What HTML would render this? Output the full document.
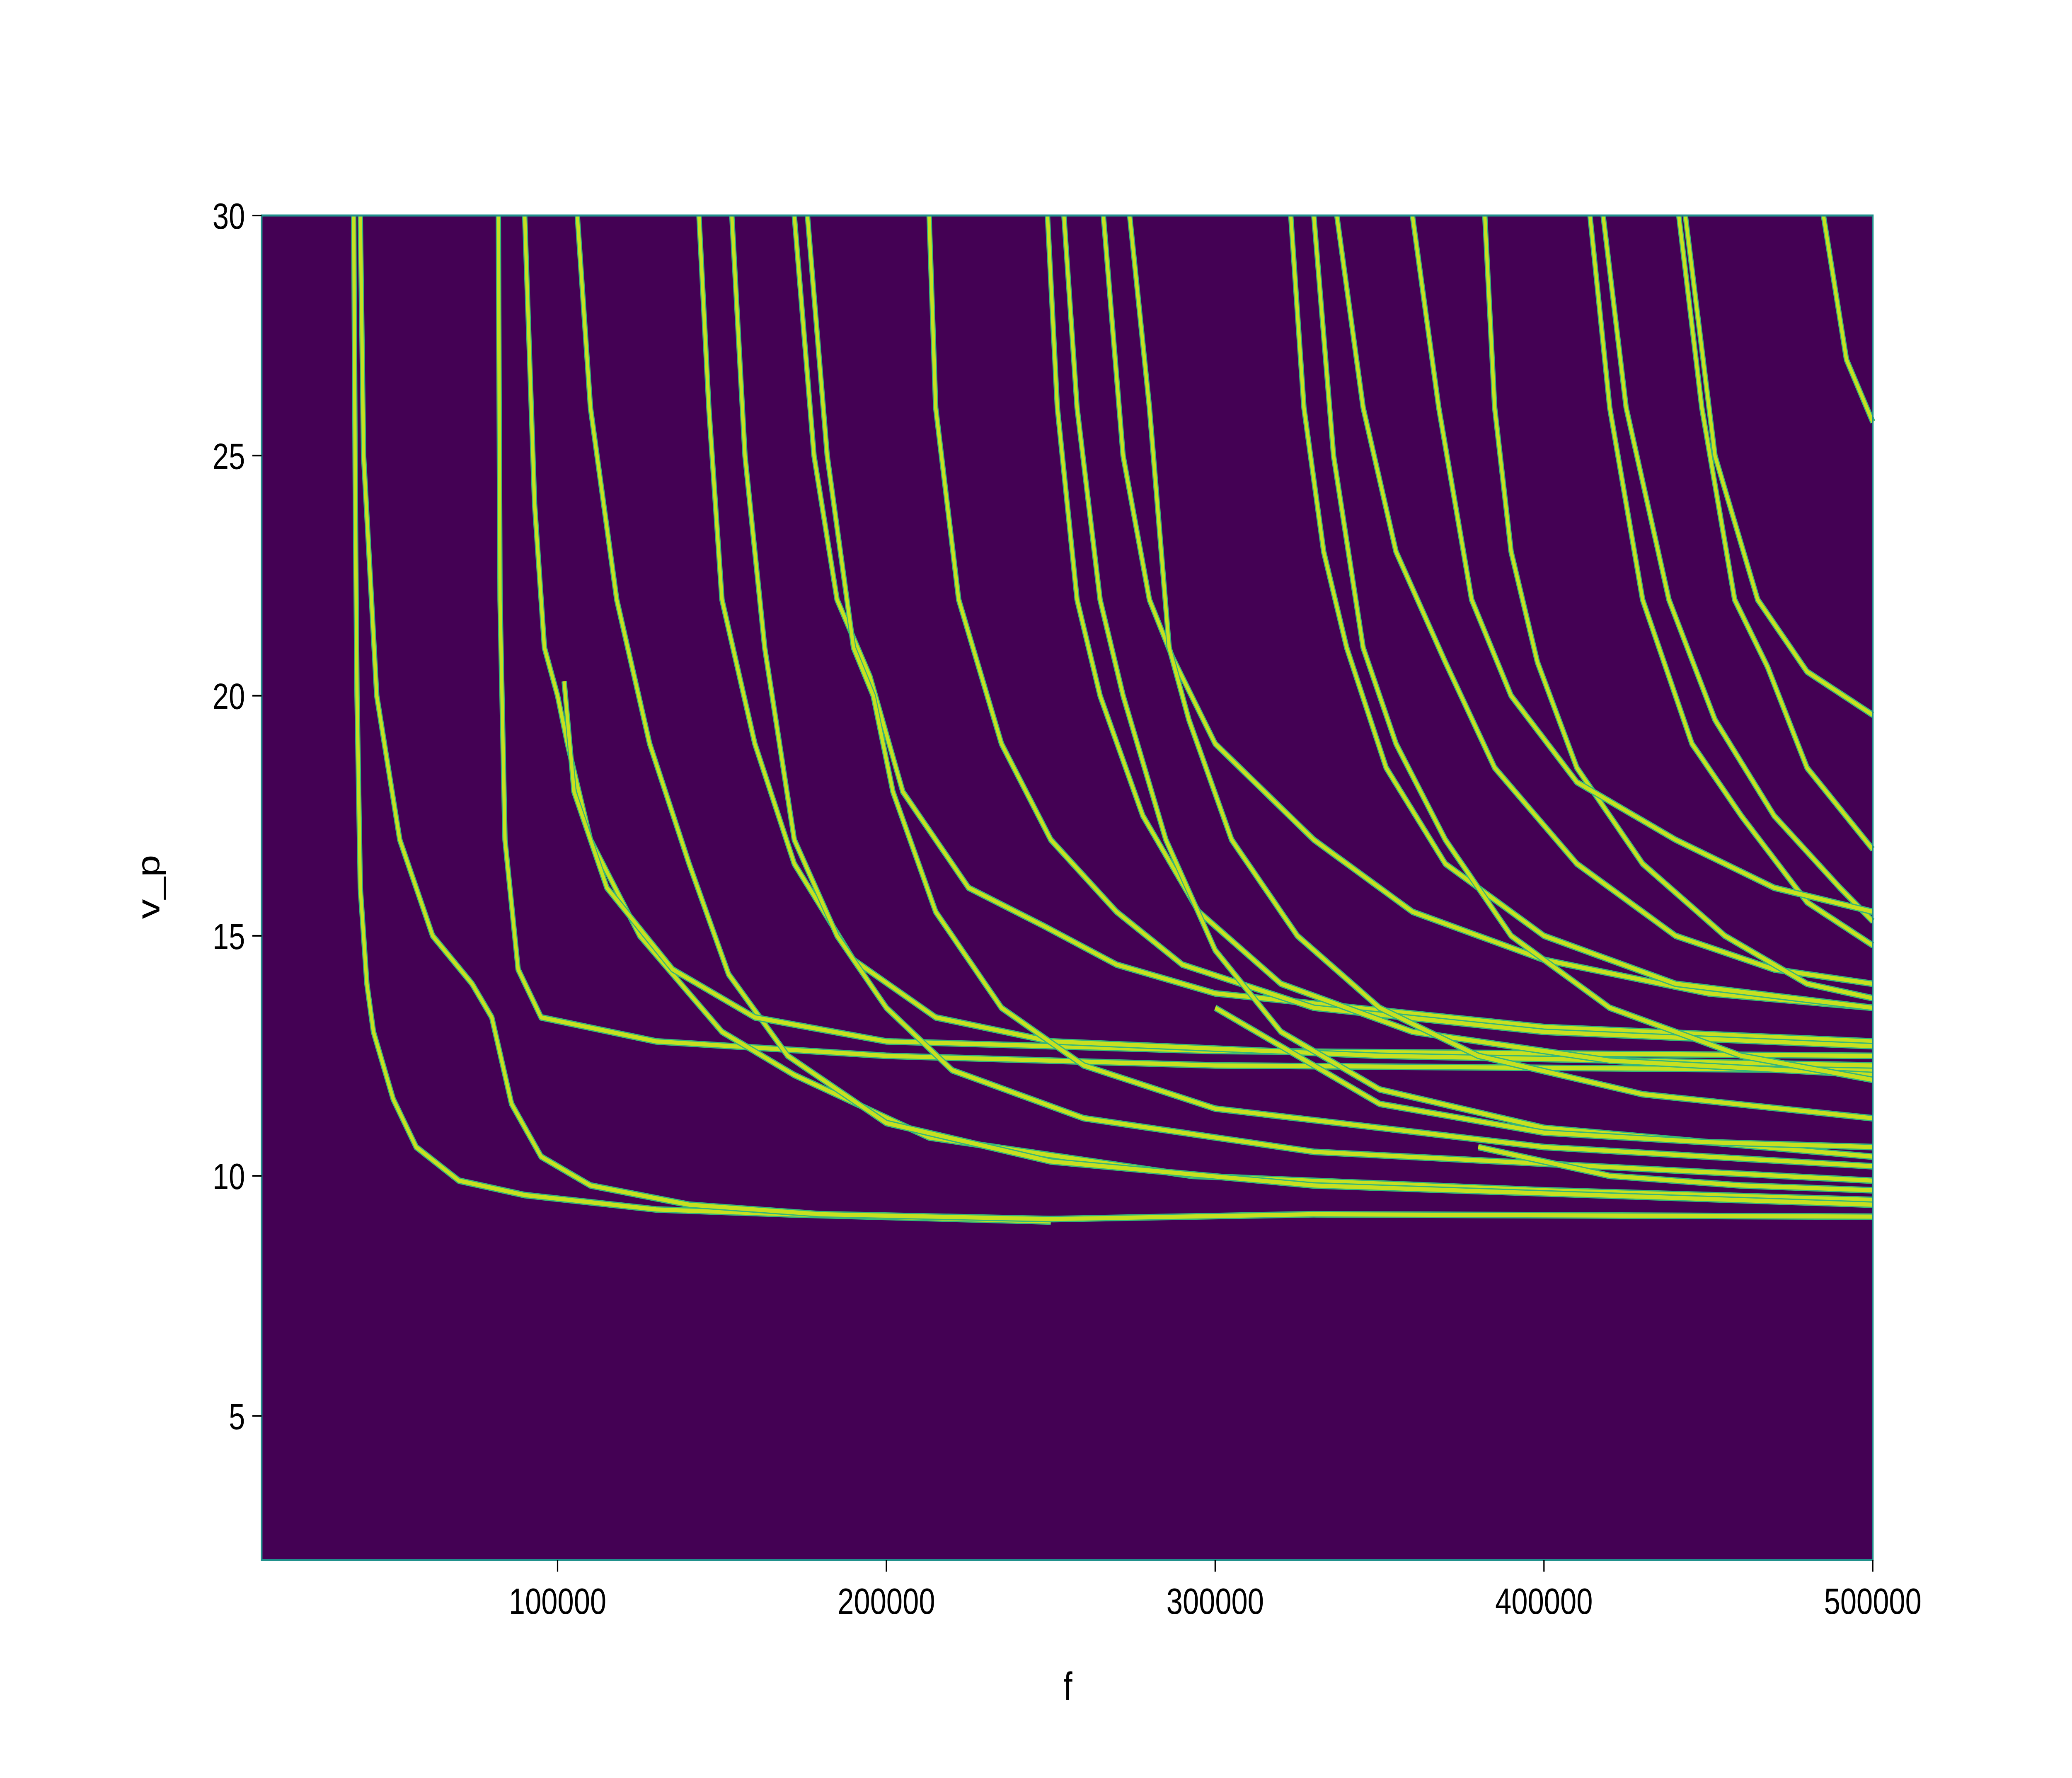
<!DOCTYPE html>
<html><head><meta charset="utf-8"><style>
html,body{margin:0;padding:0;background:#fff;overflow:hidden;width:100%;height:100%;}
svg{display:block;width:100vw;height:100vh;font-family:"Liberation Sans","DejaVu Sans",sans-serif;}
</style></head><body>
<svg id="chart" viewBox="0 0 6240 4290" preserveAspectRatio="none" xmlns="http://www.w3.org/2000/svg">
<rect x="0" y="0" width="6240" height="4290" fill="#ffffff"/>
<rect x="788" y="520" width="4852" height="3244" fill="#440154"/>
<g id="curves"></g>
<rect x="788" y="520" width="4852" height="3244" fill="none" stroke="#21918c" stroke-width="5"/>
<g id="axes"></g>
<text x="3216" y="4102" font-size="96" text-anchor="middle" fill="#000">f</text>
<text x="0" y="0" font-size="96" text-anchor="middle" fill="#000" transform="translate(480,2140) rotate(-90)">v_p</text>
</svg>
<script>
const xTicks = [100000, 200000, 300000, 400000, 500000];
const xTickLabels = ["100000", "200000", "300000", "400000", "500000"];
const yTicks = [5, 10, 15, 20, 25, 30];
const yTickLabels = ["5", "10", "15", "20", "25", "30"];
const xDomain = [10000, 500000];
const yDomain = [2, 30];
// mode curves: [f in kHz, v_p]
const c1 = [[38,30],[38.5,24],[39,20],[40,16],[42,14],[44,13],[50,11.6],[57,10.6],[70,9.9],[90,9.6],[130,9.3],[170,9.2],[250,9.05]];
const c2 = [[40,30],[41,25],[45,20],[52,17],[62,15],[74,14],[80,13.3],[86,11.5],[95,10.4],[110,9.8],[140,9.4],[180,9.2],[250,9.1],[330,9.2],[500,9.15]];
const c3 = [[82,30],[82.5,22],[84,17],[88,14.3],[95,13.3],[130,12.8],[200,12.5],[300,12.3],[500,12.2]];
const c4 = [[90,30],[93,24],[96,21],[100,20],[103,19],[110,17],[125,15],[150,13],[172,12.1],[213,10.8],[293,10],[400,9.7],[500,9.5]];
const c5 = [[106,30],[110,26],[118,22],[128,19],[140,16.5],[152,14.2],[170,12.5],[200,11.1],[250,10.3],[330,9.8],[500,9.4]];
const c5b = [[102,20.3],[105,18],[115,16],[135,14.3],[160,13.3],[200,12.8],[300,12.6],[500,12.5]];
const c6 = [[143,30],[146,26],[150,22],[160,19],[172,16.5],[190,14.5],[215,13.3],[250,12.8],[350,12.5],[500,12.3]];
const c7 = [[153,30],[157,25],[163,21],[172,17],[185,15],[200,13.5],[220,12.2],[260,11.2],[330,10.5],[500,9.9]];
const c8 = [[172,30],[178,25],[185,22],[195,20.4],[205,18],[225,16],[248,15.2],[270,14.4],[300,13.8],[400,13.1],[500,12.8]];
const c9 = [[176,30],[182,25],[190,21],[196,20],[202,18],[215,15.5],[235,13.5],[260,12.3],[300,11.4],[400,10.6],[500,10.2]];
const c10 = [[213,30],[215,26],[222,22],[235,19],[250,17],[270,15.5],[290,14.4],[330,13.5],[400,13],[500,12.7]];
const c11 = [[249,30],[252,26],[258,22],[265,20],[278,17.5],[295,15.5],[320,14],[360,13],[420,12.4],[500,12.1]];
const c12 = [[254,30],[258,26],[265,22],[272,20],[285,17],[300,14.7],[320,13],[350,11.8],[400,11],[500,10.4]];
const c13 = [[266,30],[272,25],[280,22],[287,20.8],[300,19],[330,17],[360,15.5],[400,14.5],[450,13.8],[500,13.5]];
const c14 = [[274,30],[280,26],[286,21],[292,19.5],[305,17],[325,15],[350,13.5],[380,12.5],[430,11.7],[500,11.2]];
const c15 = [[323,30],[327,26],[333,23],[340,21],[352,18.5],[370,16.5],[400,15],[440,14],[500,13.5]];
const c16 = [[330,30],[336,25],[345,21],[355,19],[370,17],[390,15],[420,13.5],[460,12.5],[500,12]];
const c17 = [[337,30],[345,26],[355,23],[370,20.7],[385,18.5],[410,16.5],[440,15],[470,14.3],[500,14]];
const c18 = [[382,30],[385,26],[390,23],[398,20.7],[410,18.5],[430,16.5],[455,15],[480,14],[500,13.7]];
const c19 = [[414,30],[420,26],[430,22],[445,19],[460,17.5],[480,15.7],[500,14.8]];
const c20 = [[418,30],[425,26],[438,22],[452,19.5],[470,17.5],[490,16],[500,15.3]];
const c21 = [[441,30],[448,26],[458,22],[468,20.6],[480,18.5],[500,16.8]];
const c22 = [[443,30],[452,25],[465,22],[480,20.5],[500,19.6]];
const c23 = [[485,30],[492,27],[500,25.7]];
const c24 = [[360,30],[368,26],[378,22],[390,20],[410,18.2],[440,17],[470,16],[500,15.5]];
const c25 = [[300,13.5],[350,11.5],[400,10.9],[450,10.7],[500,10.6]];
const c26 = [[380,10.6],[420,10],[460,9.8],[500,9.7]];
const curves = [c1,c2,c3,c4,c5,c5b,c6,c7,c8,c9,c10,c11,c12,c13,c14,c15,c16,c17,c18,c19,c20,c21,c22,c23,c24,c25,c26];

const X0 = 788, X1 = 5640, Y0 = 3764, Y1 = 520;
function xs(f){ return X0 + (f - xDomain[0]) / (xDomain[1] - xDomain[0]) * (X1 - X0); }
function ys(v){ return Y0 - (v - yDomain[0]) / (yDomain[1] - yDomain[0]) * (Y0 - Y1); }
const NS = "http://www.w3.org/2000/svg";
const cg = document.getElementById("curves");
curves.forEach((c, i) => {
  const pts = c.map(p => xs(p[0] * 1000).toFixed(1) + "," + ys(p[1]).toFixed(1)).join(" ");
  const halo = document.createElementNS(NS, "polyline");
  halo.setAttribute("points", pts);
  halo.setAttribute("fill", "none");
  halo.setAttribute("stroke", "#35b779");
  halo.setAttribute("stroke-width", "16");
  halo.setAttribute("stroke-linejoin", "round");
  
  
  cg.appendChild(halo);
  const pl = document.createElementNS(NS, "polyline");
  pl.setAttribute("points", pts);
  pl.setAttribute("fill", "none");
  pl.setAttribute("stroke", "#c8e020");
  pl.setAttribute("stroke-width", "10");
  pl.setAttribute("stroke-linejoin", "round");
  
  
  cg.appendChild(pl);
});
const ag = document.getElementById("axes");
xTicks.forEach((t, i) => {
  const x = xs(t);
  const ln = document.createElementNS(NS, "line");
  ln.setAttribute("x1", x); ln.setAttribute("x2", x);
  ln.setAttribute("y1", Y0); ln.setAttribute("y2", Y0 + 28);
  ln.setAttribute("stroke", "#000"); ln.setAttribute("stroke-width", "4");
  
  
  ag.appendChild(ln);
  const tx = document.createElementNS(NS, "text");
  tx.setAttribute("x", x); tx.setAttribute("y", Y0 + 130);
  tx.setAttribute("font-size", "88"); tx.setAttribute("text-anchor", "middle");
  tx.textContent = xTickLabels[i];
  
  
  ag.appendChild(tx);
});
yTicks.forEach((t, i) => {
  const y = ys(t);
  const ln = document.createElementNS(NS, "line");
  ln.setAttribute("x1", X0 - 28); ln.setAttribute("x2", X0);
  ln.setAttribute("y1", y); ln.setAttribute("y2", y);
  ln.setAttribute("stroke", "#000"); ln.setAttribute("stroke-width", "4");
  
  
  ag.appendChild(ln);
  const tx = document.createElementNS(NS, "text");
  tx.setAttribute("x", X0 - 50); tx.setAttribute("y", y + 32);
  tx.setAttribute("font-size", "88"); tx.setAttribute("text-anchor", "end");
  tx.textContent = yTickLabels[i];
  
  
  ag.appendChild(tx);
});
</script>
</body></html>
